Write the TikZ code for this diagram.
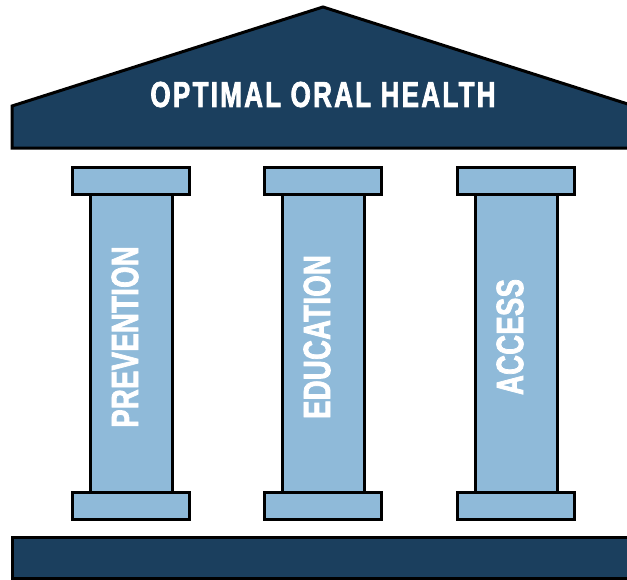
\documentclass[tikz,border=0pt]{standalone}
\usepackage{fontspec}
\usepackage{tikz}

\newfontfamily\titlefont[FakeStretch=0.72,LetterSpace=6.5,FakeBold=2]{Liberation Sans}
\newfontfamily\pillarfont[FakeStretch=0.72,LetterSpace=1,FakeBold=2]{Liberation Sans}

\definecolor{roofblue}{RGB}{27,63,94}
\definecolor{pillarblue}{RGB}{143,186,217}

\tikzset{
  roofpart/.style={fill=roofblue,draw=black,line width=3pt},
  pillarpart/.style={fill=pillarblue,draw=black,line width=3pt},
  signtext/.style={text=white,inner sep=0pt}
}

\begin{document}
\begin{tikzpicture}[x=1pt,y=-1pt]
\useasboundingbox (0,0) rectangle (627,579);
\clip (0,0) rectangle (627,579);

% roof
\filldraw[roofpart] (12,148) -- (12,106) -- (323,7) -- (634,106) -- (634,148) -- cycle;
\node[signtext,font=\titlefont\bfseries\fontsize{36}{36}\selectfont] (title) at (323,94.5) {OPTIMAL ORAL HEALTH};

% pillars
\foreach \cx/\word in {131/PREVENTION,323/EDUCATION,516/ACCESS} {
  \filldraw[pillarpart] ({\cx-41},194) rectangle ({\cx+41},492);
  \filldraw[pillarpart] ({\cx-58.5},167) rectangle ({\cx+58.5},194);
  \filldraw[pillarpart] ({\cx-58.5},492) rectangle ({\cx+58.5},519);
  \node[signtext,rotate=90,font=\pillarfont\bfseries\fontsize{38}{38}\selectfont] (\word) at ({\cx-6},337) {\word};
}

% base
\filldraw[roofpart] (12,537) rectangle (640,578);

\end{tikzpicture}
\end{document}
